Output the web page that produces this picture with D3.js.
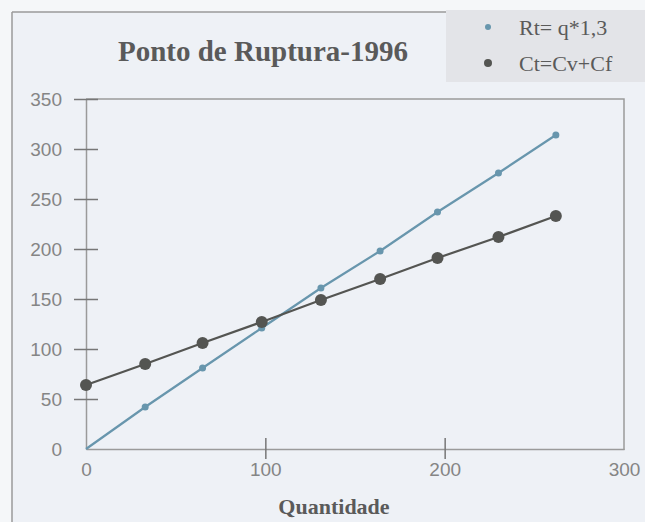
<!DOCTYPE html>
<html lang="pt">
<head>
<meta charset="UTF-8">
<title>Ponto de Ruptura-1996</title>
<script src="https://cdn.jsdelivr.net/npm/d3@7"></script>
<style>
  body { margin: 0; background: #f5f7f9; }
  svg { display: block; }
  .tick text { font-family: "Liberation Sans", Arial, sans-serif; font-size: 19px; fill: #858585; }
  .serif { font-family: "Liberation Serif", "Times New Roman", serif; font-weight: bold; fill: #5a5a5a; }
</style>
</head>
<body>
<svg id="chart" width="645" height="522"></svg>
<script>
// valores
var quantidade = [0, 33, 65, 98, 131, 164, 196, 230, 262];
var receita = [0, 42, 81, 121, 161, 198, 237, 276, 314];   // Rt= q*1,3
var custo = [64, 85, 106, 127, 149, 170, 191, 212, 233];   // Ct=Cv+Cf
var xTicks = [0, 100, 200, 300];
var yTicks = [0, 50, 100, 150, 200, 250, 300, 350];
var legendas = ["Rt= q*1,3", "Ct=Cv+Cf"];

var svg = d3.select("#chart");
var frame = "#9a9a9a";

// fundo e moldura externa
svg.append("rect").attr("x", 12).attr("y", 12).attr("width", 633).attr("height", 510).attr("fill", "#eef1f6");
svg.append("rect").attr("x", 446).attr("y", 10).attr("width", 199).attr("height", 72).attr("fill", "#e3e4e8");
svg.append("line").attr("x1", 12).attr("y1", 12).attr("x2", 12).attr("y2", 522).attr("stroke", frame).attr("stroke-width", 1.5);
svg.append("line").attr("x1", 12).attr("y1", 12).attr("x2", 446).attr("y2", 12).attr("stroke", frame).attr("stroke-width", 1.5);

var x = d3.scaleLinear().domain([0, 300]).range([86, 624]);
var y = d3.scaleLinear().domain([0, 350]).range([449, 99]);

// borda do plot (topo e direita)
svg.append("path")
  .attr("d", "M" + x(0) + "," + y(350) + "H" + x(300) + "V" + (y(0) + 1))
  .attr("fill", "none").attr("stroke", frame).attr("stroke-width", 1.5);

var gy = svg.append("g").attr("transform", "translate(" + x(0) + ",0)")
  .call(d3.axisLeft(y).tickValues(yTicks).tickSize(12).tickPadding(12).tickSizeOuter(0));
gy.select(".domain").attr("stroke", frame).attr("stroke-width", 1.5);
gy.selectAll(".tick line").attr("x1", 12).attr("stroke", "#777").attr("stroke-width", 1.5)
  .filter(function (d) { return d === 0; }).remove();

var gx = svg.append("g").attr("transform", "translate(0," + y(0) + ")")
  .call(d3.axisBottom(x).tickValues(xTicks).tickSize(10).tickPadding(4).tickSizeOuter(0));
gx.select(".domain").attr("stroke", frame).attr("stroke-width", 1.5);
gx.selectAll(".tick line").attr("y1", -11).attr("stroke", "#777").attr("stroke-width", 1.5)
  .filter(function (d) { return d === 0 || d === 300; }).remove();

// series
var series = [
  { valores: receita, cor: "#6896ad", raio: 3.5 },
  { valores: custo, cor: "#545552", raio: 6 }
];
var linha = d3.line().x(function (d) { return x(d[0]); }).y(function (d) { return y(d[1]); });

series.forEach(function (s) {
  var pts = quantidade.map(function (q, i) { return [q, s.valores[i]]; });
  svg.append("path").datum(pts).attr("d", linha)
    .attr("fill", "none").attr("stroke", s.cor).attr("stroke-width", 2.2);
  svg.append("g").selectAll("circle").data(pts).enter().append("circle")
    .attr("cx", function (d) { return x(d[0]); })
    .attr("cy", function (d) { return y(d[1]); })
    .attr("r", function (d, i) { return (i === 0 && s.raio < 4) ? 0 : s.raio; })
    .attr("fill", s.cor);
});

// titulo e rotulo
svg.append("text").attr("class", "serif").attr("x", 263).attr("y", 61)
  .attr("text-anchor", "middle").style("font-size", "29px").text("Ponto de Ruptura-1996");
svg.append("text").attr("class", "serif").attr("x", 334).attr("y", 514)
  .attr("text-anchor", "middle").style("font-size", "22px").text("Quantidade");

// legenda
var leg = svg.append("g").selectAll("g").data(legendas).enter().append("g")
  .attr("transform", function (d, i) { return "translate(488," + (27 + i * 36) + ")"; });
leg.append("circle").attr("r", function (d, i) { return i ? 4 : 3; })
  .attr("fill", function (d, i) { return series[i].cor; });
leg.append("text").attr("class", "serif").attr("x", 31).attr("y", 8)
  .style("font-size", "22px").style("font-weight", "normal").text(function (d) { return d; });
</script>
</body>
</html>
